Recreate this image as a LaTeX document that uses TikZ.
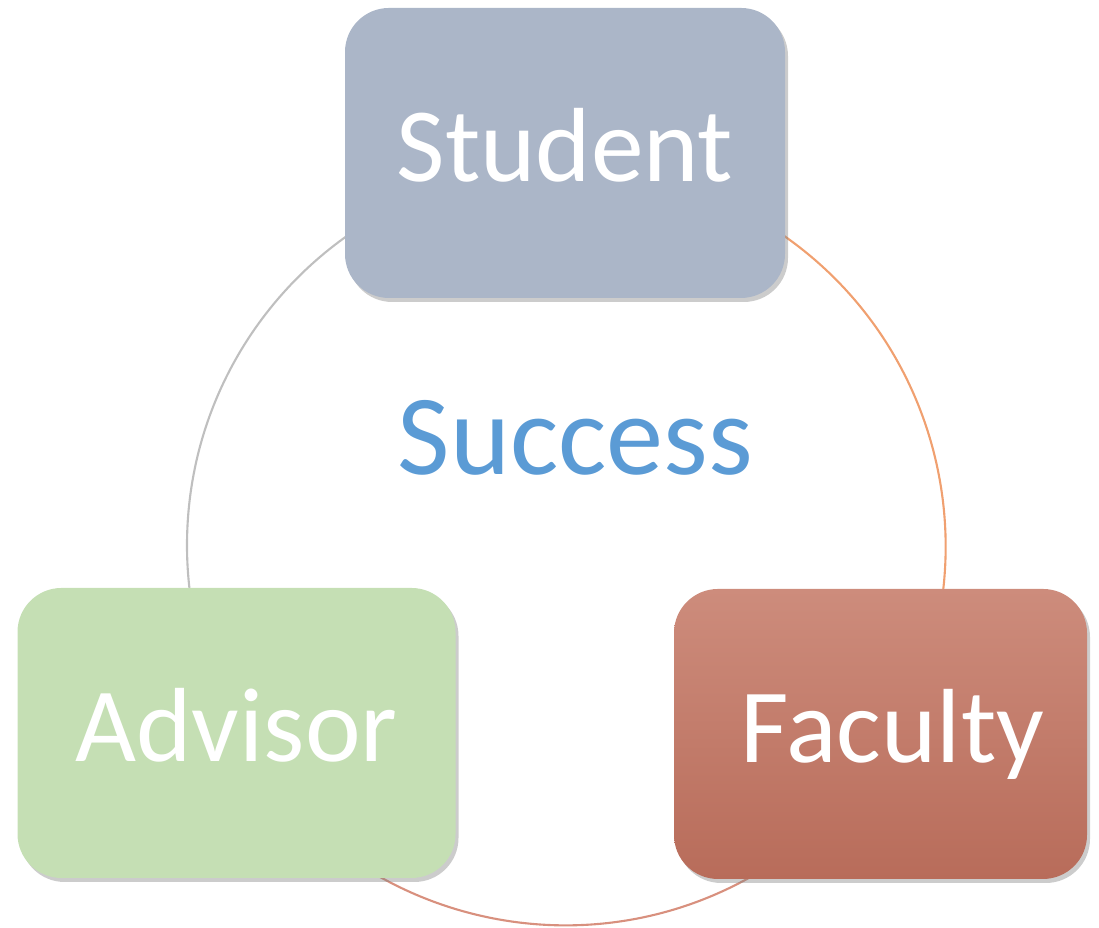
\documentclass[tikz,border=0pt]{standalone}
\usepackage{fontspec}
\setmainfont{Carlito}
\usetikzlibrary{shadows}

\definecolor{studentblue}{HTML}{ABB6C8}
\definecolor{advisorgreen}{HTML}{C5DFB4}
\definecolor{facultytop}{HTML}{CD8C7C}
\definecolor{facultybot}{HTML}{B86C5A}
\definecolor{successblue}{HTML}{5B9BD5}
\definecolor{ringgray}{HTML}{BFBFBF}
\definecolor{ringorange}{HTML}{F0A070}
\definecolor{ringred}{HTML}{D8907E}

\tikzset{
  rolebox/.style={rounded corners=0.44cm, minimum height=2.9cm, inner sep=0pt,
    text height=0.8cm, text depth=0.22cm,
    text=white, font=\fontsize{30}{36}\selectfont,
    drop shadow={shadow xshift=0.03cm, shadow yshift=-0.04cm, opacity=0.4}},
  ringarc/.style={line width=0.6pt}
}

\begin{document}
\begin{tikzpicture}
\useasboundingbox (0,0) rectangle (10.99,9.28);
\node[circle, minimum size=7.58cm, inner sep=0pt] (ring) at (5.66,3.82) {};
\draw[ringarc, ringgray] (ring.90) arc (90:210:3.79);
\draw[ringarc, ringorange] (ring.-30) arc (-30:90:3.79);
\draw[ringarc, ringred] (ring.210) arc (210:330:3.79);
\node[rolebox, fill=studentblue, minimum width=4.4cm] (student) at (5.65,7.75) {Student};
\node[rolebox, fill=advisorgreen, minimum width=4.38cm] (advisor) at (2.365,1.95) {Advisor};
\node[rolebox, top color=facultytop, bottom color=facultybot, minimum width=4.13cm] (faculty) at (8.805,1.94) {\hspace{0.24cm}Faculty};
\node[text=successblue, font=\fontsize{32.5}{39}\selectfont] (success) at (5.755,4.9) {Success};
\end{tikzpicture}
\end{document}
